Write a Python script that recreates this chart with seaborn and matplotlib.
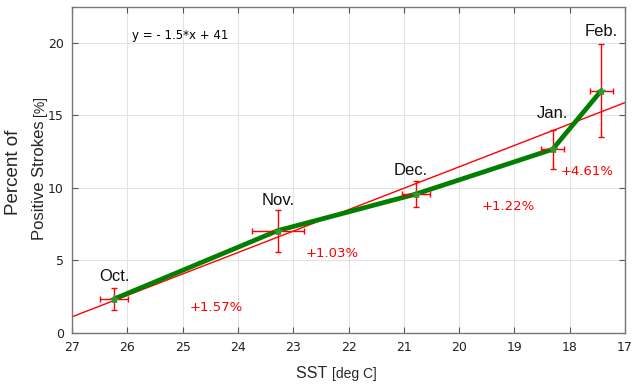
import numpy as np
import pandas as pd
import matplotlib
matplotlib.use("Agg")
import matplotlib.pyplot as plt
import seaborn as sns

months = ["Oct.", "Nov.", "Dec.", "Jan.", "Feb."]
sst = [26.24, 23.28, 20.78, 18.31, 17.43]
pct = [2.34, 7.05, 9.57, 12.65, 16.69]
sst_err = [0.26, 0.47, 0.25, 0.21, 0.21]
pct_err = [0.75, 1.45, 0.9, 1.33, 3.2]
increments = ["+1.57%", "+1.03%", "+1.22%", "+4.61%"]
inc_pos_x = [24.4, 22.3, 19.12, 17.68]
inc_pos_y = [1.75, 5.5, 8.68, 11.1]
xticks = [27, 26, 25, 24, 23, 22, 21, 20, 19, 18, 17]
yticks = [0, 5, 10, 15, 20]

sns.set_style("whitegrid")
plt.rcParams["font.family"] = ["DejaVu Sans"]

fig = plt.figure(figsize=(6.32, 3.9), dpi=100)
ax = fig.add_axes([0.1139, 0.1462, 0.8751, 0.8358])

df = pd.DataFrame({"sst": sst, "pct": pct, "month": months})

# linear fit
coef = np.polyfit(sst, pct, 1)
xf = np.array([27, 17])
ax.plot(xf, np.polyval(coef, xf), color="red", lw=1.0, zorder=2)

sns.lineplot(data=df, x="sst", y="pct", sort=False, color="#007f00", lw=3.4,
             ax=ax, zorder=3)
ax.errorbar(sst, pct, xerr=sst_err, yerr=pct_err, fmt="none", ecolor="red",
            elinewidth=1.0, capsize=2.5, capthick=1.0, zorder=4)
ax.plot(sst, pct, ls="none", marker="*", color="#2e9a2e", ms=6, zorder=5)

offsets = [(0.0, 1.0), (0.0, 1.55), (0.1, 1.1), (0.0, 1.95), (0.0, 3.55)]
for m, x, y, (dx, dy) in zip(months, sst, pct, offsets):
    ax.text(x + dx, y + dy, m, fontsize=12, ha="center", va="bottom",
            family="Liberation Sans", color="#111111")

for t, x, y in zip(increments, inc_pos_x, inc_pos_y):
    ax.text(x, y, t, fontsize=9.5, color="red", ha="center", va="center")

ax.text(25.92, 20.5, "y = - 1.5*x + 41", fontsize=8.5, ha="left", va="center",
        color="black")

ax.set_xlim(27, 17)
ax.set_ylim(0, 22.45)
ax.set_xticks(xticks)
ax.set_yticks(yticks)
ax.tick_params(axis="both", direction="in", length=4, labelsize=9,
               color="#555555", labelcolor="#222222", top=True, right=True,
               bottom=True, left=True, pad=6)
ax.grid(True, color="#e3e3e3", lw=0.8)
for s in ax.spines.values():
    s.set_color("#777777")
    s.set_linewidth(1.0)

ax.set_xlabel("")
ax.set_ylabel("")
jx = 332 / 632
fig.text(jx, 1 - 374 / 390, "SST ", fontsize=11.5, ha="right", va="center",
         family="Liberation Sans")
fig.text(jx, 1 - 374 / 390, "[deg C]", fontsize=10, ha="left", va="center",
         family="Liberation Sans")
fig.text(14 / 632, 1 - 172 / 390, "Percent of", fontsize=13.5, rotation=90,
         ha="center", va="center", family="Liberation Sans")
jy = 1 - 116 / 390
fig.text(40 / 632, jy, "Positive Strokes ", fontsize=12, rotation=90,
         ha="center", va="top", family="Liberation Sans")
fig.text(40 / 632, jy, "[%]", fontsize=10, rotation=90, ha="center",
         va="bottom", family="Liberation Sans")

fig.savefig("out.png", dpi=100)
